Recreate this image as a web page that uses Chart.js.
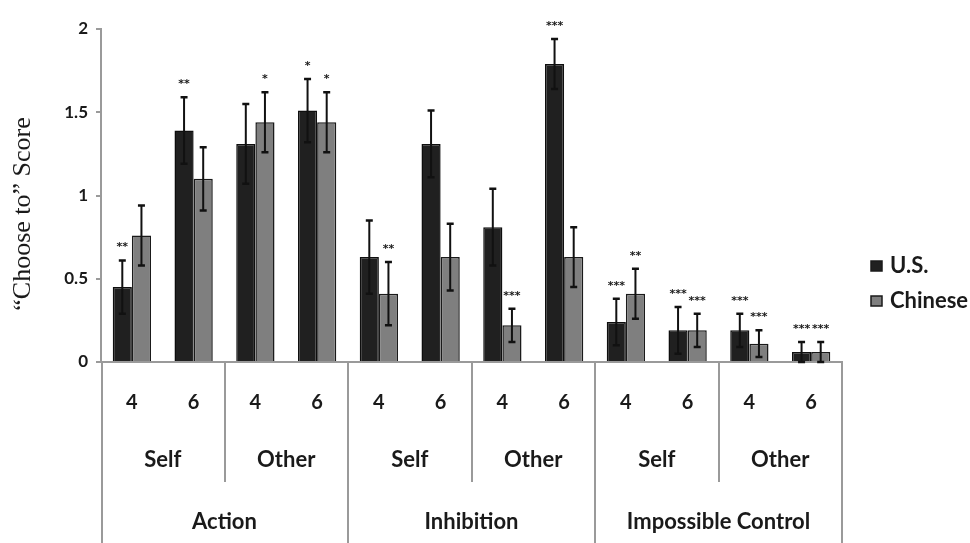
<!DOCTYPE html>
<html>
<head>
<meta charset="utf-8">
<script src="https://cdn.jsdelivr.net/npm/chart.js@4.4.1/dist/chart.umd.min.js"></script>
<style>
  html, body { margin: 0; padding: 0; background: #ffffff; }
  #wrap { width: 970px; height: 543px; position: relative; }
</style>
</head>
<body>
<div id="wrap"><canvas id="c" width="970" height="543"></canvas></div>
<script>
// ---- data ----
const ages = ['4', '6'];
const subgroups = ['Self', 'Other'];
const groups = ['Action', 'Inhibition', 'Impossible Control'];
const seriesNames = ['U.S.', 'Chinese'];
const usValues = [0.45, 1.39, 1.31, 1.51, 0.63, 1.31, 0.81, 1.79, 0.24, 0.19, 0.19, 0.06];
const usErrors = [0.16, 0.20, 0.24, 0.19, 0.22, 0.20, 0.23, 0.15, 0.14, 0.14, 0.10, 0.06];
const cnValues = [0.76, 1.10, 1.44, 1.44, 0.41, 0.63, 0.22, 0.63, 0.41, 0.19, 0.11, 0.06];
const cnErrors = [0.18, 0.19, 0.18, 0.18, 0.19, 0.20, 0.10, 0.18, 0.15, 0.10, 0.08, 0.06];
const usStars = ['**', '**', '', '*', '', '', '', '***', '***', '***', '***', '***'];
const cnStars = ['', '', '*', '*', '**', '', '***', '', '**', '***', '***', '***'];
const yTicks = [0, 0.5, 1, 1.5, 2];
const yTickLabels = ['0', '0.5', '1', '1.5', '2'];
const yTitle = '\u201CChoose to\u201D Score';

// ---- derived ----
const labels = [];
groups.forEach(() => subgroups.forEach(() => ages.forEach(a => labels.push(a))));
const errors = [usErrors, cnErrors];
const stars = [usStars, cnStars];

const AXIS = '#9a9a9a';
const TEXT = '#1a1a1a';
const FONT = 'Lato, "Open Sans", sans-serif';

const decorPlugin = {
  id: 'decor',
  afterDatasetsDraw(chart) {
    const ctx = chart.ctx;
    const ys = chart.scales.y;
    ctx.save();
    chart.data.datasets.forEach((ds, di) => {
      const meta = chart.getDatasetMeta(di);
      meta.data.forEach((el, i) => {
        const v = ds.data[i], e = errors[di][i];
        const top = ys.getPixelForValue(v + e);
        const bot = ys.getPixelForValue(Math.max(0, v - e));
        ctx.strokeStyle = '#111';
        ctx.lineWidth = 2;
        ctx.beginPath();
        ctx.moveTo(el.x, top); ctx.lineTo(el.x, bot);
        ctx.stroke();
        ctx.lineWidth = 2.5;
        ctx.beginPath();
        ctx.moveTo(el.x - 3.5, top); ctx.lineTo(el.x + 3.5, top);
        ctx.moveTo(el.x - 3.5, bot); ctx.lineTo(el.x + 3.5, bot);
        ctx.stroke();
        const s = stars[di][i];
        if (s) {
          ctx.fillStyle = TEXT;
          ctx.font = 'bold 11px "DejaVu Sans", sans-serif';
          ctx.textAlign = 'center';
          ctx.textBaseline = 'alphabetic';
          ctx.fillText(s, el.x, top - 10);
        }
      });
    });
    ctx.restore();
  },
  afterDraw(chart) {
    const ctx = chart.ctx;
    const xs = chart.scales.x;
    const ca = chart.chartArea;
    const n = labels.length;
    const w = (xs.right - xs.left) / n;
    const bx = i => xs.left + i * w;
    const perGroup = subgroups.length * ages.length;
    ctx.save();
    // dividers
    ctx.strokeStyle = AXIS;
    ctx.lineWidth = 2;
    for (let i = 0; i <= n; i += ages.length) {
      const isGroup = i % perGroup === 0;
      const xx = Math.round(bx(i)) + (i === 0 ? 1 : 0);
      ctx.beginPath();
      ctx.moveTo(xx, ca.bottom);
      ctx.lineTo(xx, isGroup ? chart.height : ca.bottom + 120);
      ctx.stroke();
    }
    // subgroup labels
    ctx.fillStyle = TEXT;
    ctx.textAlign = 'center';
    ctx.textBaseline = 'middle';
    ctx.font = 'bold 22px ' + FONT;
    let k = 0;
    groups.forEach(() => subgroups.forEach(sg => {
      const cx = (bx(k) + bx(k + ages.length)) / 2;
      ctx.fillText(sg, cx, ca.bottom + 98);
      k += ages.length;
    }));
    groups.forEach((g, gi) => {
      const cx = (bx(gi * perGroup) + bx((gi + 1) * perGroup)) / 2;
      ctx.fillText(g, cx, ca.bottom + 160);
    });
    // y title
    ctx.save();
    ctx.translate(23, 214);
    ctx.rotate(-Math.PI / 2);
    ctx.font = '26px "Liberation Serif", "Times New Roman", serif';
    ctx.fillText(yTitle, 0, 0);
    ctx.restore();
    // legend
    const colors = chart.data.datasets.map(d => d.backgroundColor);
    const ly = [266, 301];
    chart.data.datasets.forEach((d, di) => {
      ctx.fillStyle = colors[di];
      ctx.fillRect(871, ly[di] - 5, 11, 10);
      ctx.strokeStyle = '#1a1a1a';
      ctx.lineWidth = 1.5;
      ctx.strokeRect(871, ly[di] - 5, 11, 10);
      ctx.fillStyle = TEXT;
      ctx.textAlign = 'left';
      ctx.font = 'bold 22px ' + FONT;
      ctx.fillText(d.label, 890, ly[di]);
    });
    ctx.restore();
  }
};

new Chart(document.getElementById('c'), {
  type: 'bar',
  data: {
    labels: labels,
    datasets: [
      { label: seriesNames[0], data: usValues, backgroundColor: '#202020', borderColor: '#0e0e0e', borderWidth: 1.5 },
      { label: seriesNames[1], data: cnValues, backgroundColor: '#7f7f7f', borderColor: '#1a1a1a', borderWidth: 1.5 }
    ]
  },
  options: {
    responsive: false,
    animation: false,
    devicePixelRatio: 1,
    layout: { padding: { left: 0, right: 128, top: 29, bottom: 0 } },
    plugins: { legend: { display: false }, tooltip: { enabled: false } },
    datasets: { bar: { categoryPercentage: 0.62, barPercentage: 1.0 } },
    scales: {
      x: {
        grid: { display: false, drawTicks: false },
        border: { display: true, color: AXIS, width: 2 },
        ticks: { color: TEXT, font: { family: FONT, size: 20, weight: 'bold' }, padding: 29, maxRotation: 0, autoSkip: false },
        afterFit(s) { s.height = 181; }
      },
      y: {
        min: 0, max: 2,
        afterBuildTicks(s) { s.ticks = yTicks.map(v => ({ value: v })); },
        grid: { drawOnChartArea: false, drawTicks: true, tickLength: 5, color: AXIS, lineWidth: 2 },
        border: { display: true, color: AXIS, width: 2 },
        ticks: {
          color: TEXT, font: { family: FONT, size: 17, weight: 'bold' }, padding: 8,
          callback: (v) => yTickLabels[yTicks.indexOf(v)]
        },
        afterFit(s) { s.width = 101; }
      }
    }
  },
  plugins: [decorPlugin]
});
</script>
</body>
</html>
